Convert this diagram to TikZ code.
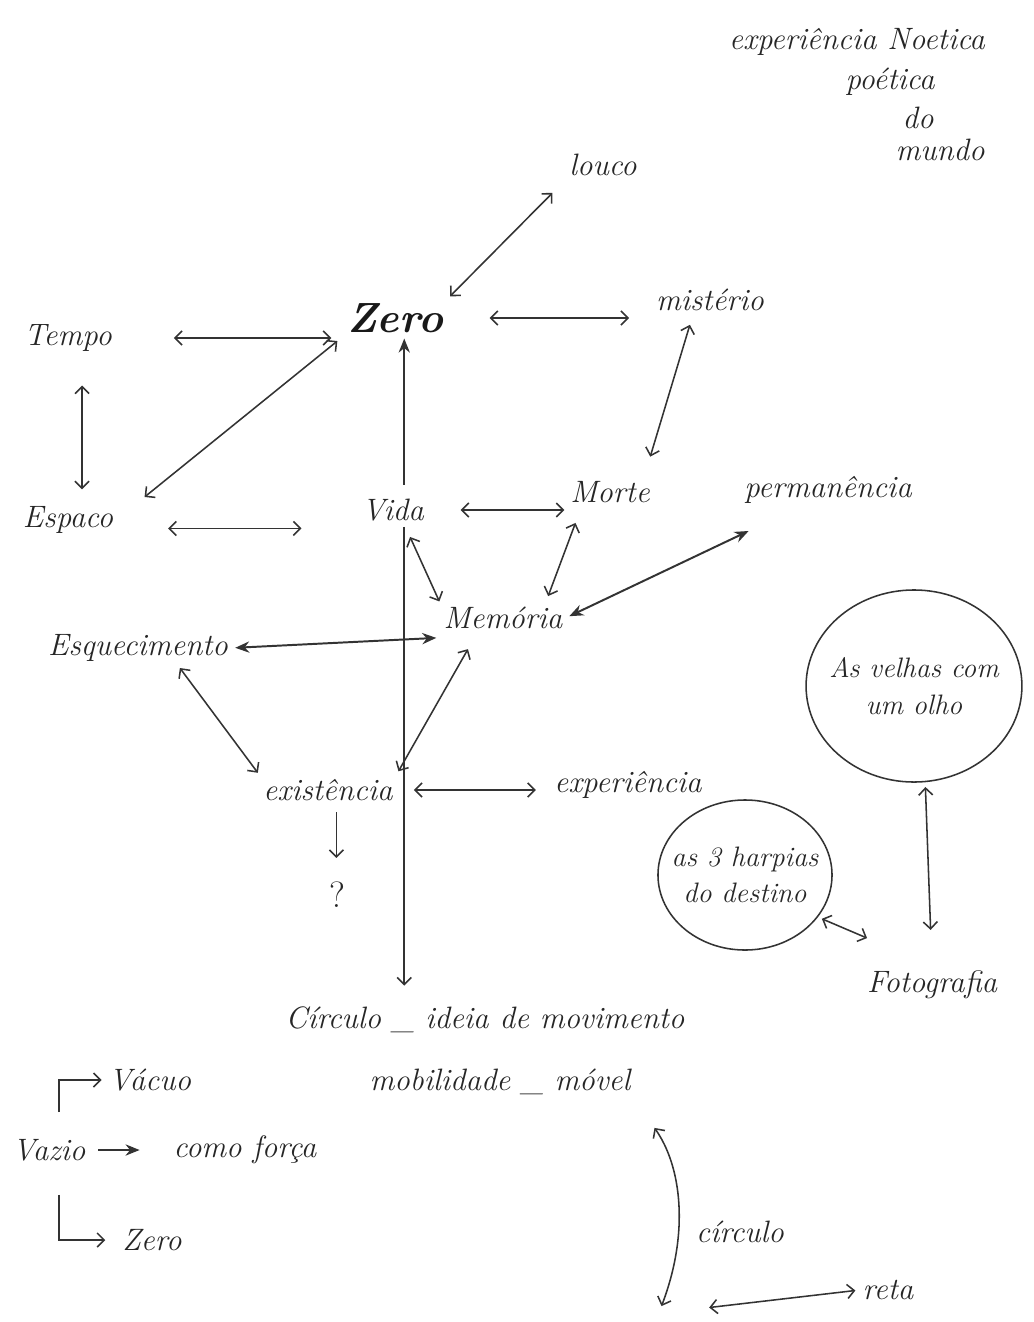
\documentclass[tikz,border=0pt]{standalone}
\usepackage{fontspec}
\usetikzlibrary{shapes,arrows,arrows.meta,positioning,calc,shapes.geometric}

\begin{document}
\begin{tikzpicture}[
    x=0.025cm, y=-0.025cm,
    ink/.style={draw=black!80, line width=1.1pt},
    word/.style={text=black!85, font=\fontsize{22}{24}\selectfont\itshape, inner sep=2pt},
    big/.style={text=black!90, font=\fontsize{30}{32}\selectfont\bfseries\itshape, inner sep=2pt},
    bubble/.style={ellipse, ink, text=black!85, align=center, inner ysep=0pt, font=\fontsize{20}{26}\selectfont\itshape},
    arrow/.style={{Straight Barb[length=5pt,width=10pt]}-{Straight Barb[length=5pt,width=10pt]}, ink, shorten <=3pt, shorten >=3pt},
    heavy/.style={{Stealth[length=10pt,width=8pt]}-{Stealth[length=10pt,width=8pt]}, ink, line width=1.4pt, shorten <=3pt, shorten >=3pt},
    oneway/.style={-{Straight Barb[length=5pt,width=10pt]}, ink, shorten <=3pt, shorten >=3pt},
    solid tip/.style={-{Stealth[length=10pt,width=8pt]}}
]
    \useasboundingbox[fill=white] (0,0) rectangle (1033,1322);

    % Top corner
    \node[word] (noetica) at (857,42) {experiência Noetica};
    \node[word] (poetica) at (890,82) {poética};
    \node[word] (do) at (918,118) {do};
    \node[word] (mundo) at (940,150) {mundo};

    % Central notions
    \node[word] (louco) at (603,165) {louco};
    \node[big] (zero) at (395,318) {Zero};
    \node[word] (misterio) at (710,300) {mistério};
    \node[word] (tempo) at (68,338) {Tempo};
    \node[word] (espaco) at (68,520) {Espaco};
    \node[word] (vida) at (393,510) {Vida};
    \node[word] (morte) at (610,492) {Morte};
    \node[word] (perman) at (828,490) {permanência};
    \node[word] (memoria) at (503,618) {Memória};
    \node[word] (esquec) at (138,648) {Esquecimento};
    \node[word] (exist) at (328,790) {existência};
    \node[word] (exper) at (628,785) {experiência};
    \node[word, font=\fontsize{26}{28}\selectfont] (quest) at (337,895) {?};

    % Circles
    \node[bubble, inner xsep=-6pt, minimum width=5.3cm, minimum height=4.8cm] (velhas) at (914,686) {As velhas com\\um olho};
    \node[bubble, inner xsep=-9pt, minimum width=4.35cm, minimum height=3.75cm] (harpias) at (745,875) {as 3 harpias\\do destino};
    \node[word] (foto) at (932,985) {Fotografia};

    % Bottom
    \node[word] (circulo) at (485,1020) {Círculo \_ ideia de movimento};
    \node[word] (mobil) at (500,1082) {mobilidade \_ móvel};
    \node[word] (vacuo) at (150,1080) {Vácuo};
    \node[word] (vazio) at (49,1150) {Vazio};
    \node[word] (forca) at (245,1150) {como força};
    \node[word] (zerob) at (152,1240) {Zero};
    \node[word] (circw) at (740,1232) {círculo};
    \node[word] (reta) at (888,1290) {reta};
    \coordinate (cbot) at (660,1310);
    \coordinate (rbase) at (705,1308);

    % Connections
    \draw[arrow, shorten <=14pt, shorten >=4pt] (louco.south west) -- (zero.north east);
    \draw[arrow, shorten <=42pt, shorten >=9pt] (tempo.east) -- (tempo.east -| zero.west);
    \draw[arrow, shorten <=22pt, shorten >=10pt] ([xshift=10pt]tempo.south) -- ([xshift=10pt]espaco.north);
    \draw[arrow, shorten <=6pt, shorten >=26pt] (zero.south west) -- (espaco.east);
    \draw[arrow, shorten <=31pt, shorten >=17pt] (zero.east) -- (zero.east -| misterio.west);
    \draw[arrow, shorten <=8pt, shorten >=16pt] ([xshift=-12pt]misterio.south) -- ([xshift=24pt]morte.north);
    \draw[arrow, shorten <=37pt, shorten >=41pt] ([yshift=-6pt]espaco.east) -- ([yshift=-6pt]espaco.east -| vida.west);
    \draw[oneway, solid tip, shorten <=8pt, shorten >=2pt] ([xshift=8pt]vida.north) -- ([xshift=8pt]vida.north |- zero.south);
    \draw[arrow, shorten <=24pt, shorten >=2pt] (vida.east) -- (vida.east -| morte.west);
    \draw[arrow, shorten <=13pt, shorten >=6pt] ([xshift=-20pt]morte.south) -- ([xshift=30pt]memoria.north);
    \draw[heavy] (memoria.east) -- ([xshift=8pt,yshift=-16pt]perman.south west);
    \draw[arrow, shorten <=10pt, shorten >=2pt] ([xshift=8pt]vida.south) -- (memoria.north west);
    \draw[heavy] (esquec.east) -- ([yshift=-14pt]memoria.west);
    \draw[arrow] ([xshift=28pt]esquec.south) -- (exist.north west);
    \draw[arrow, shorten <=4pt, shorten >=14pt] (exist.north east) -- ([xshift=-18pt]memoria.south);
    \draw[arrow, shorten <=13pt, shorten >=11pt] (exist.east) -- (exist.east -| exper.west);
    \draw[oneway, shorten <=6pt, shorten >=15pt] ([xshift=6pt]exist.south) -- ([xshift=6pt]exist.south |- quest.north);
    \draw[oneway, shorten <=2pt, shorten >=13pt] ([xshift=8pt]vida.south) -- ([xshift=8pt]vida.south |- circulo.north);
    \draw[arrow, shorten >=27pt] ([xshift=8pt]velhas.south) -- (foto.north);
    \draw[arrow] (harpias.-30) -- ([xshift=5pt,yshift=20pt]foto.north west);
    \draw[oneway, shorten <=17pt] ([xshift=7pt]vazio.north) |- (vacuo.west);
    \draw[oneway, solid tip, line width=1.5pt, shorten <=7pt, shorten >=22pt] (vazio.east) -- (forca.west);
    \draw[oneway, shorten <=22pt, shorten >=10pt] ([xshift=7pt]vazio.south) |- (zerob.west);
    \draw[arrow, shorten <=26pt] (mobil.south east) to[bend left=28] (cbot);
    \draw[arrow] (rbase) -- (reta.west);
\end{tikzpicture}
\end{document}
